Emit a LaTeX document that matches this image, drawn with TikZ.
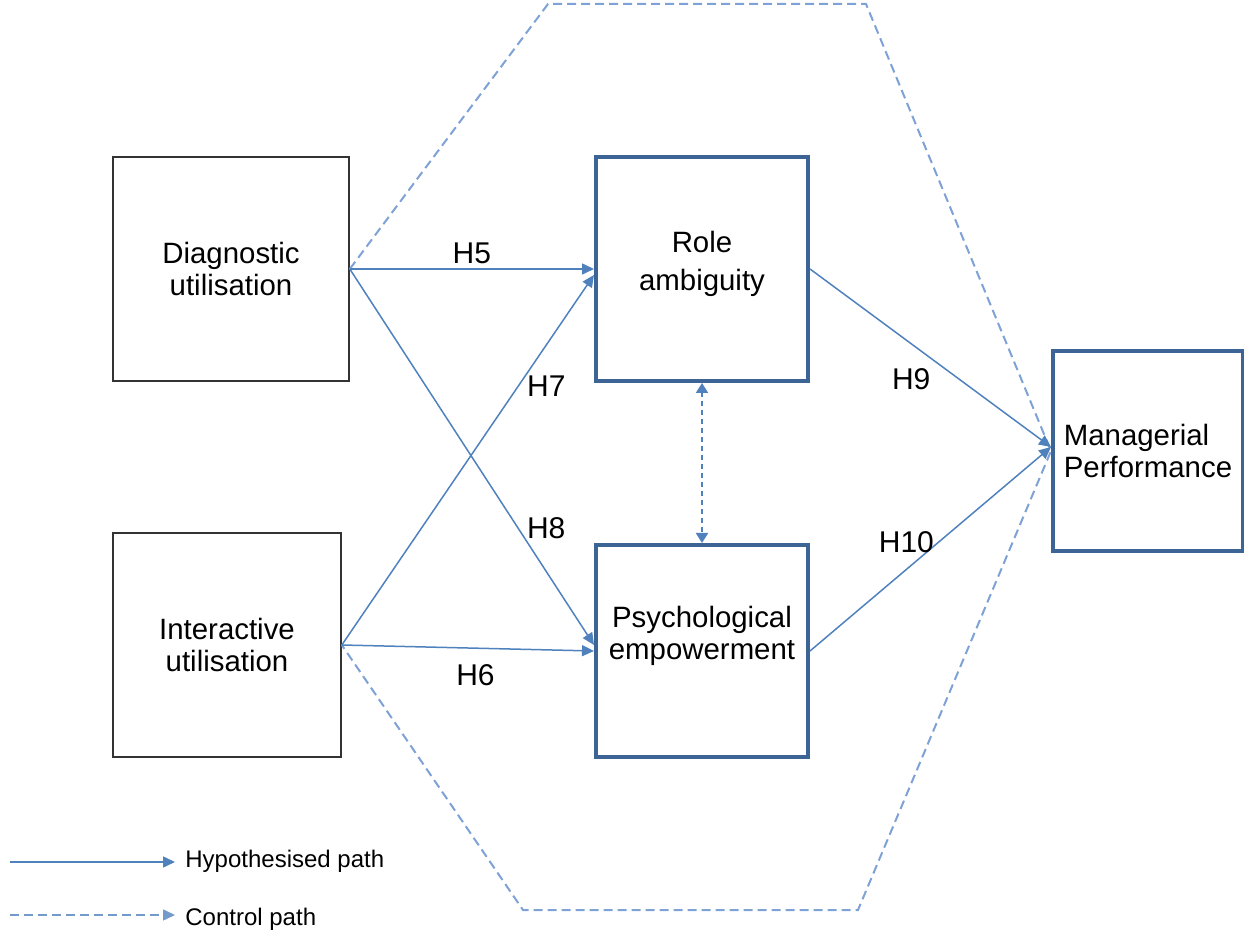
\documentclass[tikz,border=0pt]{standalone}
\usepackage{fontspec}
\setmainfont{Liberation Sans}
\usetikzlibrary{arrows.meta}

\definecolor{boxblue}{HTML}{3C6596}
\definecolor{pathblue}{HTML}{4F81BD}
\definecolor{ctrlblue}{HTML}{7EA2D6}

\tikzset{
    varbox/.style={draw=black!80, line width=0.8pt, align=center,
        font=\fontsize{14.7}{16}\selectfont},
    medbox/.style={varbox, draw=boxblue, line width=2pt},
    hyp/.style={draw, color=pathblue, line width=0.75pt,
        -{Triangle[length=6pt,width=5.5pt]}},
    ctrl/.style={draw, color=ctrlblue, line width=1pt, dash pattern=on 4.5pt off 2.5pt},
    hlabel/.style={inner sep=2pt, text=black, font=\fontsize{15}{16}\selectfont},
    legtext/.style={anchor=base west, inner sep=0pt, font=\fontsize{12}{14}\selectfont}
}

\begin{document}
\begin{tikzpicture}[x=0.5pt, y=-0.5pt]
            \useasboundingbox (0,0) rectangle (1244,935);

            \node[varbox, minimum width=118pt, minimum height=112pt] (diag) at (231,269) {Diagnostic\\utilisation};
            \node[varbox, minimum width=114pt, minimum height=112pt] (inter) at (227,645) {Interactive\\utilisation};
            \node[medbox, minimum width=106pt, minimum height=112pt] (role) at (702,269) {Role\\[3pt]ambiguity\\[-8pt]\mbox{}};
            \node[medbox, minimum width=106pt, minimum height=106pt] (psych) at (702,651) {Psychological\\empowerment\\[2pt]\mbox{}};
            \node[medbox, minimum width=95pt, minimum height=100pt, align=left] (perf) at (1148,451) {Managerial\\Performance};

            \coordinate (tl) at (548,4);
            \coordinate (tr) at (866,4);
            \coordinate (br) at (858,910);
            \coordinate (bl) at (523,910);
            \draw[ctrl] (diag.east) -- (tl) -- (tr) -- (perf.west) -- (br) -- (bl) -- (inter.east);

            \path (diag.east) edge[hyp] node[hlabel, anchor=south] {H5} (role.west);
            \path (inter.east) edge[hyp] node[hlabel, pos=0.53, below=6pt] {H6} (psych.west);
            \path (inter.east) edge[hyp] node[hlabel, pos=0.7, right=2pt] {H7} ([yshift=-3pt]role.west);
            \path (diag.east) edge[hyp] node[hlabel, pos=0.69, right=2pt] {H8} ([yshift=3pt]psych.west);
            \path (role.east) edge[hyp] node[hlabel, pos=0.42, below=10pt] {H9} ([yshift=2pt]perf.west);
            \path (psych.east) edge[hyp] node[hlabel, pos=0.4, above=6pt] {H10} ([yshift=2pt]perf.west);

            \draw[color=pathblue, line width=1pt, dash pattern=on 2.5pt off 2pt,
                {Triangle[length=5pt,width=6pt]}-{Triangle[length=5pt,width=6pt]}] (role.south) -- (psych.north);

            \coordinate (h0) at (10,862);
            \coordinate (h1) at (175,862);
            \coordinate (c0) at (10,915);
            \coordinate (c1) at (175,915);
            \draw[hyp] (h0) -- (h1);
            \draw[ctrl, color=pathblue!80, line width=0.75pt, -{Triangle[length=6pt,width=5.5pt]}] (c0) -- (c1);
            \node[legtext] (hyptext) at (185,868) {Hypothesised path};
            \node[legtext] (ctrltext) at (185,925) {Control path};
        \end{tikzpicture}
\end{document}
